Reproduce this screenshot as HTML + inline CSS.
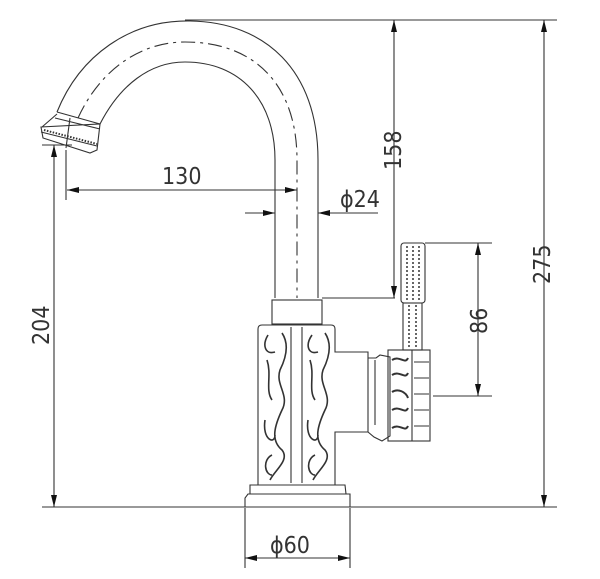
<!DOCTYPE html>
<html><head><meta charset="utf-8"><style>
html,body{margin:0;padding:0;background:#fff;}
svg{display:block;}
text{font-family:"Liberation Sans Narrow","DejaVu Sans Condensed","Liberation Sans",sans-serif;font-size:23px;fill:#333;}
</style></head><body>
<svg width="600" height="579" viewBox="0 0 600 579" xmlns="http://www.w3.org/2000/svg">
<defs>
<marker id="a" viewBox="0 0 12 6" refX="12" refY="3" markerWidth="12" markerHeight="6" orient="auto-start-reverse" markerUnits="userSpaceOnUse"><path d="M0,0 L12,3 L0,6z" fill="#111"/></marker>
</defs>
<g stroke="#333" stroke-width="1.1" fill="none">
<line x1="185" y1="20" x2="557" y2="20"/>
<line x1="42" y1="507" x2="557" y2="507"/>
<line x1="42" y1="145" x2="72" y2="145"/>
<line x1="66" y1="150" x2="66" y2="200"/>
<line x1="322" y1="298" x2="395" y2="298"/>
<line x1="425" y1="243" x2="492" y2="243"/>
<line x1="433" y1="396" x2="492" y2="396"/>
<line x1="245" y1="508" x2="245" y2="568"/>
<line x1="350" y1="508" x2="350" y2="568"/>
<line x1="394" y1="20" x2="394" y2="298" marker-start="url(#a)" marker-end="url(#a)"/>
<line x1="544" y1="20" x2="544" y2="507" marker-start="url(#a)" marker-end="url(#a)"/>
<line x1="54" y1="145" x2="54" y2="507" marker-start="url(#a)" marker-end="url(#a)"/>
<line x1="67" y1="190" x2="297" y2="190" marker-start="url(#a)" marker-end="url(#a)"/>
<line x1="245" y1="213" x2="275" y2="213" marker-end="url(#a)"/>
<line x1="318" y1="213" x2="378" y2="213" marker-start="url(#a)"/>
<line x1="478" y1="243" x2="478" y2="396" marker-start="url(#a)" marker-end="url(#a)"/>
<line x1="245" y1="558" x2="350" y2="558" marker-start="url(#a)" marker-end="url(#a)"/>
<path d="M57,112 C80,55 130,20 190,21 C265,22 318,70 318,160 L318,298"/>
<path d="M100,124 C120,85 150,62 185,62 C240,62 275,100 275,160 L275,298"/>
<path d="M78,118 C100,70 140,42 185,42 C255,42 297,85 297,160 L297,298" stroke-dasharray="14,5,3,5"/>
<path d="M57,112 L100,124 M55,118 L100,129 M42,127 L57,114 M100,124 L97,150 L90,153 L43,138 L41,127 Z M41,132 L97,146"/>
<path d="M44,130 L97,144" stroke-dasharray="1.5,1.5" stroke-width="2"/>
<line x1="70" y1="118" x2="66" y2="148"/>
<rect x="272" y="300" width="50" height="24"/>
<path d="M262,325 L331,325 Q335,325 335,329 L335,352 L368,352 L368,432 L335,432 L335,485 L258,485 L258,329 Q258,325 262,325Z"/>
<line x1="291" y1="327" x2="291" y2="483"/><line x1="302" y1="327" x2="302" y2="483"/>
<g stroke-width="1.6">
<path d="M268,335 C262,345 265,355 275,352 M282,333 C290,345 285,360 280,370 C275,385 290,395 282,410 C275,425 270,440 282,450 C290,460 275,470 270,480 M267,360 C272,375 265,390 272,400 M265,420 C262,440 275,445 275,435 M272,455 C262,460 265,475 272,475"/>
<path d="M312,335 C305,345 308,355 318,352 M325,333 C333,345 328,360 323,370 C318,385 333,395 325,410 C318,425 313,440 325,450 C333,460 318,470 313,480 M310,360 C315,375 308,390 315,400 M308,420 C305,440 318,445 318,435 M315,455 C305,460 308,475 315,475"/>
</g>
<path d="M250,485 L345,485 L346,494 L250,494 Z M248,494 L350,494 L350,507 L245,507 L245,498 Z"/>
<path d="M368,358 L376,358 L380,355 L390,357 L390,436 L382,441 L374,437 L368,432"/>
<line x1="375" y1="360" x2="375" y2="425"/>
<rect x="388" y="350" width="42" height="91"/>
<line x1="412" y1="350" x2="412" y2="441"/>
<path d="M414,362 L429,362 M414,378 L429,378 M414,394 L429,394 M414,410 L429,410 M414,426 L429,426"/>
<path d="M392,360 C400,355 405,365 408,358 M392,375 C400,370 405,380 408,373 M392,392 C398,388 406,392 408,398 M392,410 C400,405 405,415 408,408 M392,428 C400,423 405,433 408,426" stroke-width="2"/>
<rect x="401" y="243" width="24" height="60" rx="3"/>
<rect x="403" y="303" width="19" height="47"/>
<path d="M407,246 L407,300 M413,246 L413,300 M419,246 L419,300 M409,305 L409,348 M416,305 L416,348" stroke-dasharray="2,2" stroke-width="1.5"/>
</g>
<text x="162" y="184">130</text>
<text x="340" y="207">ϕ24</text>
<text x="270" y="553">ϕ60</text>
<text transform="translate(401,170) rotate(-90)">158</text>
<text transform="translate(550,284) rotate(-90)">275</text>
<text transform="translate(49,345) rotate(-90)">204</text>
<text transform="translate(487,334) rotate(-90)">86</text>
</svg>
</body></html>
